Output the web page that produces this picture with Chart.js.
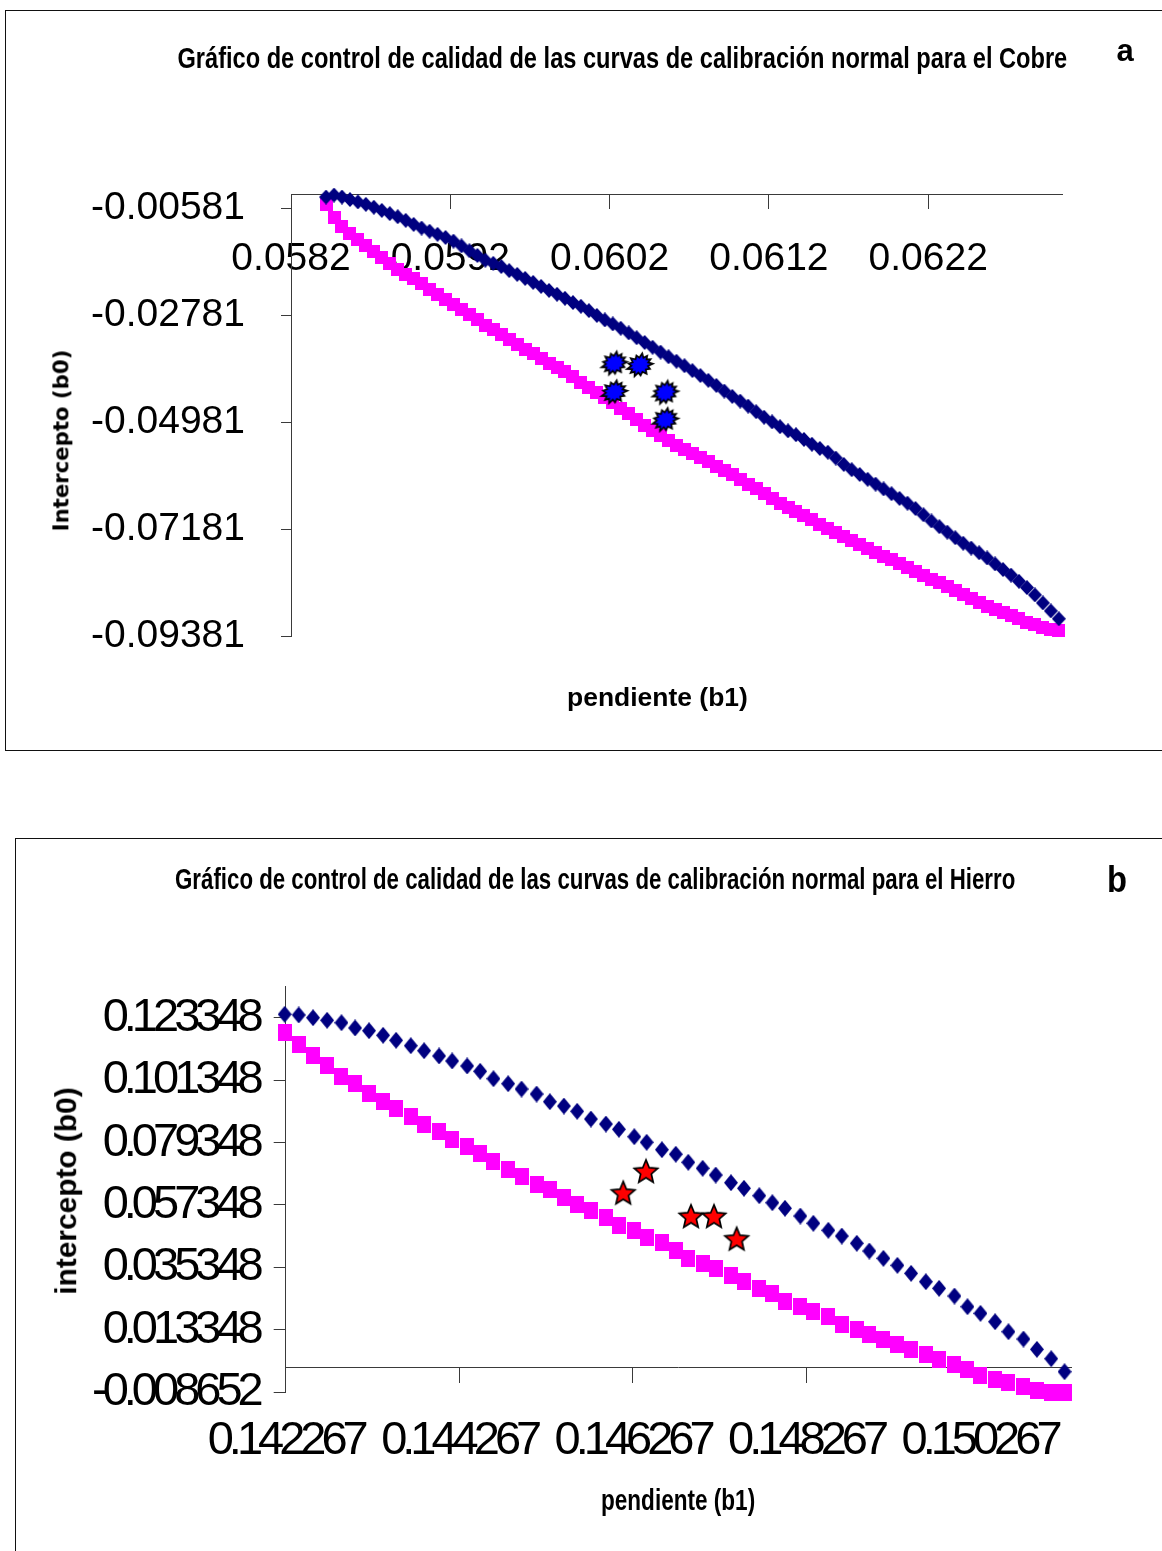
<!DOCTYPE html>
<html lang="es">
<head>
<meta charset="utf-8">
<title>Gráficos de control de calidad – Cobre y Hierro</title>
<script src="https://cdn.jsdelivr.net/npm/chart.js"></script>
<style>
  html, body { margin: 0; padding: 0; background: #fff; overflow: hidden; }
  body { width: 1162px; height: 1551px; position: relative; font-family: 'Liberation Sans', Arial, sans-serif; color: #000; }
  .frame { position: absolute; border: 1.5px solid #111; box-sizing: border-box; }
  canvas { position: absolute; left: 0; }
  .txt { position: absolute; white-space: nowrap; font-weight: bold; line-height: 1; transform-origin: 50% 50%; z-index: 2; }
</style>
</head>
<body>
<div class="frame" style="left:5px; top:10px; width:1300px; height:741px;"></div>
<div class="frame" style="left:15px; top:838px; width:1300px; height:900px;"></div>

<canvas id="chartCobre" width="1162" height="760" style="top:0;"></canvas>
<canvas id="chartHierro" width="1162" height="791" style="top:760px;"></canvas>

<!-- Chart (a): copper -->
<div class="txt" data-cx="622" data-cy="58" data-w="890" style="font-size:29px;">Gráfico de control de calidad de las curvas de calibración normal para el Cobre</div>
<div class="txt" data-cx="1125" data-cy="50" style="font-size:31px;">a</div>
<div class="txt" data-cx="62" data-cy="440" data-w="182" data-rot="1" style="font-size:21px; font-family:'DejaVu Sans', sans-serif;">Intercepto (b0)</div>
<div class="txt" data-cx="657" data-cy="697" data-w="181" style="font-size:25px;">pendiente (b1)</div>

<!-- Chart (b): iron -->
<div class="txt" data-cx="595" data-cy="879" data-w="840" style="font-size:29px;">Gráfico de control de calidad de las curvas de calibración normal para el Hierro</div>
<div class="txt" data-cx="1117" data-cy="880" data-w="20" style="font-size:36px;">b</div>
<div class="txt" data-cx="66" data-cy="1191" data-w="207" data-rot="1" style="font-size:30px;">intercepto (b0)</div>
<div class="txt" data-cx="678" data-cy="1500" data-w="154" style="font-size:29px;">pendiente (b1)</div>

<script>
// ---------- Copper: confidence ellipse of slope/intercept ----------
const slopeCu = [
  0.05842, 0.05847, 0.05852, 0.05857, 0.05862, 0.05867, 0.05872, 0.05877, 0.05882, 0.05887,
  0.05892, 0.05897, 0.05902, 0.05907, 0.05912, 0.05917, 0.05922, 0.05927, 0.05932, 0.05937,
  0.05942, 0.05947, 0.05952, 0.05957, 0.05962, 0.05967, 0.05972, 0.05977, 0.05982, 0.05987,
  0.05992, 0.05997, 0.06002, 0.06007, 0.06012, 0.06017, 0.06022, 0.06027, 0.06032, 0.06037,
  0.06042, 0.06047, 0.06052, 0.06057, 0.06062, 0.06067, 0.06072, 0.06077, 0.06082, 0.06087,
  0.06092, 0.06097, 0.06102, 0.06107, 0.06112, 0.06117, 0.06122, 0.06127, 0.06132, 0.06137,
  0.06142, 0.06147, 0.06152, 0.06157, 0.06162, 0.06167, 0.06172, 0.06177, 0.06182, 0.06187,
  0.06192, 0.06197, 0.06202, 0.06207, 0.06212, 0.06217, 0.06222, 0.06227, 0.06232, 0.06237,
  0.06242, 0.06247, 0.06252, 0.06257, 0.06262, 0.06267, 0.06272, 0.06277, 0.06282, 0.06287,
  0.06292, 0.06297, 0.06302
];
const upperCu = [
  -0.00349, -0.00308, -0.00349, -0.00400, -0.00449, -0.00499, -0.00558, -0.00624, -0.00690, -0.00754,
  -0.00828, -0.00912, -0.00986, -0.01052, -0.01116, -0.01181, -0.01255, -0.01354, -0.01453, -0.01551,
  -0.01648, -0.01712, -0.01778, -0.01862, -0.01940, -0.02022, -0.02105, -0.02187, -0.02269, -0.02349,
  -0.02431, -0.02518, -0.02596, -0.02684, -0.02783, -0.02876, -0.02958, -0.03046, -0.03143, -0.03242,
  -0.03340, -0.03437, -0.03538, -0.03634, -0.03725, -0.03817, -0.03918, -0.04019, -0.04118, -0.04222,
  -0.04338, -0.04449, -0.04545, -0.04648, -0.04763, -0.04876, -0.04973, -0.05072, -0.05156, -0.05236,
  -0.05333, -0.05431, -0.05518, -0.05596, -0.05715, -0.05847, -0.05956, -0.06054, -0.06153, -0.06252,
  -0.06350, -0.06449, -0.06546, -0.06644, -0.06753, -0.06881, -0.07010, -0.07126, -0.07239, -0.07354,
  -0.07467, -0.07566, -0.07664, -0.07771, -0.07892, -0.08008, -0.08123, -0.08250, -0.08380, -0.08530,
  -0.08694, -0.08859, -0.09021
];
const lowerCu = [
  -0.00513, -0.00760, -0.00955, -0.01097, -0.01220, -0.01336, -0.01461, -0.01593, -0.01714, -0.01829,
  -0.01934, -0.02033, -0.02137, -0.02251, -0.02362, -0.02458, -0.02557, -0.02656, -0.02756, -0.02872,
  -0.02985, -0.03083, -0.03182, -0.03279, -0.03377, -0.03476, -0.03575, -0.03673, -0.03770, -0.03856,
  -0.03939, -0.04041, -0.04155, -0.04261, -0.04360, -0.04465, -0.04580, -0.04695, -0.04808, -0.04921,
  -0.05037, -0.05150, -0.05250, -0.05347, -0.05452, -0.05542, -0.05614, -0.05699, -0.05797, -0.05890,
  -0.05972, -0.06058, -0.06155, -0.06254, -0.06352, -0.06451, -0.06550, -0.06649, -0.06731, -0.06813,
  -0.06895, -0.06975, -0.07072, -0.07169, -0.07255, -0.07337, -0.07418, -0.07500, -0.07584, -0.07664,
  -0.07740, -0.07806, -0.07876, -0.07958, -0.08041, -0.08121, -0.08203, -0.08285, -0.08367, -0.08448,
  -0.08530, -0.08612, -0.08694, -0.08762, -0.08828, -0.08892, -0.08958, -0.09025, -0.09089, -0.09143,
  -0.09194, -0.09231, -0.09252
];
const sampleSlopeCu     = [0.06023, 0.06039, 0.06023, 0.06055, 0.06055];
const sampleInterceptCu = [-0.03768, -0.03803, -0.04358, -0.04368, -0.04928];
const slopeTicksCu      = [0.0582, 0.0592, 0.0602, 0.0612, 0.0622];
const interceptTicksCu  = [-0.09381, -0.07181, -0.04981, -0.02781, -0.00581];
const slopeRangeCu      = [0.0582, 0.06304];
const interceptRangeCu  = [-0.09381, -0.00293];

// ---------- Iron: confidence ellipse of slope/intercept ----------
const slopeFe = [
  0.142255, 0.142417, 0.142582, 0.142744, 0.142910, 0.143067, 0.143228, 0.143390, 0.143540, 0.143709,
  0.143863, 0.144036, 0.144186, 0.144359, 0.144509, 0.144663, 0.144832, 0.144986, 0.145160, 0.145313,
  0.145475, 0.145628, 0.145786, 0.145959, 0.146109, 0.146286, 0.146429, 0.146605, 0.146765, 0.146909,
  0.147075, 0.147225, 0.147401, 0.147551, 0.147728, 0.147878, 0.148024, 0.148201, 0.148351, 0.148524,
  0.148679, 0.148852, 0.148997, 0.149159, 0.149320, 0.149478, 0.149648, 0.149801, 0.149978, 0.150128,
  0.150278, 0.150447, 0.150601, 0.150774, 0.150929, 0.151094, 0.151247
];
const upperFe = [
  0.124546, 0.124299, 0.123348, 0.122432, 0.121586, 0.119718, 0.118767, 0.117146, 0.115384, 0.113481,
  0.111719, 0.109851, 0.108089, 0.106327, 0.104459, 0.101852, 0.100090, 0.098222, 0.096460, 0.093746,
  0.092231, 0.090363, 0.087650, 0.085888, 0.084020, 0.081412, 0.079439, 0.076831, 0.075245, 0.072390,
  0.070277, 0.067916, 0.065202, 0.063229, 0.060621, 0.058154, 0.056181, 0.053469, 0.050896, 0.048429,
  0.046419, 0.043847, 0.041133, 0.038561, 0.036094, 0.033275, 0.030314, 0.027988, 0.025275, 0.021504,
  0.019178, 0.016218, 0.012694, 0.010121, 0.006493, 0.003180, -0.001402
];
const lowerFe = [
  0.118203, 0.113728, 0.109957, 0.106574, 0.102803, 0.100231, 0.096707, 0.093993, 0.091280, 0.088707,
  0.085888, 0.083174, 0.080602, 0.077888, 0.075422, 0.072602, 0.069924, 0.067316, 0.064638, 0.062876,
  0.060057, 0.057449, 0.055581, 0.053115, 0.050190, 0.048534, 0.045961, 0.044199, 0.041309, 0.038561,
  0.036799, 0.035037, 0.032429, 0.030561, 0.027848, 0.026227, 0.023514, 0.021752, 0.019990, 0.017980,
  0.015408, 0.013646, 0.011884, 0.010121, 0.008254, 0.006493, 0.004731, 0.002968, 0.001206, -0.000555,
  -0.002564, -0.004079, -0.005136, -0.006687, -0.007850, -0.008661, -0.008661
];
const sampleSlopeFe     = [0.146159, 0.146421, 0.146940, 0.147205, 0.147467];
const sampleInterceptFe = [0.061466, 0.069078, 0.053221, 0.053221, 0.045257];
const slopeTicksFe      = [0.142267, 0.144267, 0.146267, 0.148267, 0.150267];
const interceptTicksFe  = [-0.008652, 0.013348, 0.035348, 0.057348, 0.079348, 0.101348, 0.123348];
const slopeRangeFe      = [0.142267, 0.15133];
const interceptRangeFe  = [-0.008652, 0.13427];

// ---------- helpers ----------
const pts = (xs, ys) => xs.map((x, i) => ({ x, y: ys[i] }));

function markerCanvas(w, h, paint) {
  const c = document.createElement('canvas');
  c.width = w; c.height = h;
  paint(c.getContext('2d'), w, h);
  return c;
}
const diamond = (w, h, color) => markerCanvas(w, h, (g) => {
  g.fillStyle = color;
  g.beginPath();
  g.moveTo(w / 2, 0); g.lineTo(w, h / 2); g.lineTo(w / 2, h); g.lineTo(0, h / 2);
  g.closePath(); g.fill();
});
const block = (w, h, color) => markerCanvas(w, h, (g) => { g.fillStyle = color; g.fillRect(0, 0, w, h); });

// spiky "explosion" marker used for the copper samples
const burst = markerCanvas(32, 32, (g) => {
  g.translate(16, 16); g.rotate(-0.5);
  g.beginPath();
  const n = 13;
  for (let i = 0; i < 2 * n; i++) {
    const r = i % 2 ? 8.8 : (i % 4 ? 13.5 : 12.3);
    const a = i * Math.PI / n;
    g.lineTo(r * Math.cos(a), r * 0.82 * Math.sin(a));
  }
  g.closePath();
  g.fillStyle = '#0000ff'; g.fill();
  g.lineWidth = 1.7; g.strokeStyle = '#000'; g.stroke();
});
// five-pointed star used for the iron samples
const star = markerCanvas(30, 30, (g) => {
  g.translate(15, 15.5);
  g.beginPath();
  for (let i = 0; i < 10; i++) {
    const r = i % 2 ? 5.6 : 12.3;
    const a = -Math.PI / 2 + i * Math.PI / 5;
    g.lineTo(r * Math.cos(a), r * Math.sin(a));
  }
  g.closePath();
  g.fillStyle = '#ff0000'; g.fill();
  g.lineWidth = 1.7; g.strokeStyle = '#000'; g.stroke();
});

Chart.defaults.font.family = "'Liberation Sans', Arial, sans-serif";
Chart.defaults.color = '#000';
const AXIS = '#3a3a3a';

// tick labels of the iron chart are drawn condensed
const condensedText = {
  id: 'condensedText',
  beforeDraw(chart, args, opts) { chart.ctx.letterSpacing = opts.spacing || '0px'; }
};

const fixedTicks = (values) => (scale) => { scale.ticks = values.map(v => ({ value: v })); };

// ---------- (a) Cobre ----------
new Chart(document.getElementById('chartCobre'), {
  type: 'scatter',
  data: {
    datasets: [
      { label: 'Curvas de calibración', data: pts(sampleSlopeCu, sampleInterceptCu),
        pointStyle: burst, pointRadius: 12, order: 0, clip: false },
      { label: 'Límite superior', data: pts(slopeCu, upperCu),
        pointStyle: diamond(14, 15, '#000080'), pointRadius: 7, order: 1, clip: false },
      { label: 'Límite inferior', data: pts(slopeCu, lowerCu),
        pointStyle: block(13, 13, '#ff00ff'), pointRadius: 7, order: 2, clip: false }
    ]
  },
  options: {
    responsive: false, animation: false, events: [], devicePixelRatio: 1,
    layout: { padding: { left: 0, top: 194.3, right: 100, bottom: 123.7 } },
    plugins: { legend: { display: false }, tooltip: { enabled: false } },
    scales: {
      x: {
        type: 'linear', bounds: 'data', z: 1,
        min: slopeRangeCu[0], max: slopeRangeCu[1],
        position: { y: interceptRangeCu[1] },
        afterBuildTicks: fixedTicks(slopeTicksCu),
        afterFit: (s) => { s.paddingLeft = 0; s.paddingRight = 0; },
        ticks: { callback: (v) => v.toFixed(4), font: { size: 39 }, color: '#000',
                 padding: 28, maxRotation: 0, minRotation: 0, autoSkip: false },
        grid: { drawOnChartArea: false, tickLength: 14, color: AXIS },
        border: { color: AXIS }
      },
      y: {
        type: 'linear', bounds: 'data', position: 'left',
        min: interceptRangeCu[0], max: interceptRangeCu[1],
        afterBuildTicks: fixedTicks(interceptTicksCu),
        afterFit: (s) => { s.width = 291; },
        ticks: { callback: (v) => v.toFixed(5), font: { size: 39 }, color: '#000', padding: 36, autoSkip: false },
        grid: { drawOnChartArea: false, tickLength: 10, color: AXIS },
        border: { color: AXIS }
      }
    }
  }
});

// ---------- (b) Hierro ----------
new Chart(document.getElementById('chartHierro'), {
  type: 'scatter',
  plugins: [condensedText],
  data: {
    datasets: [
      { label: 'Curvas de calibración', data: pts(sampleSlopeFe, sampleInterceptFe),
        pointStyle: star, pointRadius: 12, order: 0, clip: false },
      { label: 'Límite superior', data: pts(slopeFe, upperFe),
        pointStyle: diamond(14, 17, '#000080'), pointRadius: 8, order: 1, clip: false },
      { label: 'Límite inferior', data: pts(slopeFe, lowerFe),
        pointStyle: block(14, 17, '#ff00ff'), pointRadius: 8, order: 2, clip: false }
    ]
  },
  options: {
    responsive: false, animation: false, events: [], devicePixelRatio: 1,
    layout: { padding: { left: 0, top: 226.7, right: 90.3, bottom: 158.7 } },
    plugins: { legend: { display: false }, tooltip: { enabled: false }, condensedText: { spacing: '-5px' } },
    scales: {
      x: {
        type: 'linear', bounds: 'data',
        min: slopeRangeFe[0], max: slopeRangeFe[1],
        position: { y: 0 },
        afterBuildTicks: fixedTicks(slopeTicksFe),
        afterFit: (s) => { s.paddingLeft = 0; s.paddingRight = 0; },
        ticks: { callback: (v) => v.toFixed(6), font: { size: 47 }, color: '#000',
                 padding: 30, maxRotation: 0, minRotation: 0, autoSkip: false },
        grid: { drawOnChartArea: false, tickLength: 15, color: AXIS },
        border: { color: AXIS }
      },
      y: {
        type: 'linear', bounds: 'data', position: 'left',
        min: interceptRangeFe[0], max: interceptRangeFe[1],
        afterBuildTicks: fixedTicks(interceptTicksFe),
        afterFit: (s) => { s.width = 285.7; },
        ticks: { callback: (v) => v.toFixed(6), font: { size: 47 }, color: '#000', padding: 15, autoSkip: false },
        grid: { drawOnChartArea: false, tickLength: 12, color: AXIS },
        border: { color: AXIS }
      }
    }
  }
});

// ---------- place and fit the text labels ----------
document.querySelectorAll('.txt').forEach((el) => {
  const w = el.offsetWidth, h = el.offsetHeight;
  const cx = +el.dataset.cx, cy = +el.dataset.cy;
  const s = el.dataset.w ? (+el.dataset.w / w) : 1;
  el.style.left = (cx - w / 2) + 'px';
  el.style.top = (cy - h / 2) + 'px';
  el.style.transform = (el.dataset.rot ? 'rotate(-90deg) ' : '') + 'scaleX(' + s.toFixed(4) + ')';
});
</script>
</body>
</html>
